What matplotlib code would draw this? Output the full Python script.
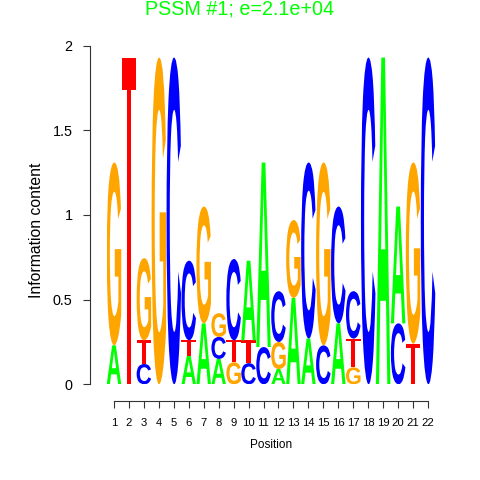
import matplotlib
matplotlib.use('Agg')
import matplotlib.pyplot as plt
from matplotlib.textpath import TextPath
from matplotlib.patches import PathPatch
from matplotlib.path import Path
from matplotlib.font_manager import FontProperties
from matplotlib.transforms import Affine2D

plt.rcParams['font.family'] = ['Liberation Sans', 'DejaVu Sans']

# Logo data: letters stacked bottom to top, with their heights (bits)
positions = list(range(1, 23))
stack_letters = ['AG', 'T', 'CTG', 'G', 'C', 'ATC', 'AG', 'ACG', 'GTC', 'CTA', 'CA',
                 'AGC', 'AG', 'AC', 'CG', 'AC', 'GTC', 'C', 'A', 'CA', 'TG', 'C']
stack_heights = [
    [0.23, 1.08],
    [1.93],
    [0.12, 0.14, 0.485],
    [1.93],
    [1.93],
    [0.17, 0.09, 0.47],
    [0.36, 0.69],
    [0.15, 0.13, 0.14],
    [0.13, 0.13, 0.48],
    [0.125, 0.135, 0.47],
    [0.22, 1.09],
    [0.09, 0.16, 0.30],
    [0.51, 0.46],
    [0.27, 1.04],
    [0.23, 1.08],
    [0.36, 0.69],
    [0.10, 0.17, 0.28],
    [1.93],
    [1.93],
    [0.36, 0.69],
    [0.24, 1.07],
    [1.93],
]
ytick_vals = [0, 0.5, 1, 1.5, 2]
ytick_labels = ['0', '0.5', '1', '1.5', '2']
title = 'PSSM #1; e=2.1e+04'

letter_colors = {'A': '#00FF00', 'C': '#0000FF', 'G': '#FFA500', 'T': '#FF0000'}
letter_font = FontProperties(family='Liberation Sans', weight='bold')


def unit_glyph(ch):
    """Glyph outline scaled into the unit square."""
    if ch == 'T':
        verts = [(0, 1), (1, 1), (1, 0.9), (0.645, 0.9), (0.645, 0),
                 (0.355, 0), (0.355, 0.9), (0, 0.9), (0, 1)]
        return Path(verts, closed=True)
    tp = TextPath((0, 0), ch, size=1, prop=letter_font)
    bb = tp.get_extents()
    t = Affine2D().translate(-bb.x0, -bb.y0).scale(1 / bb.width, 1 / bb.height)
    return t.transform_path(tp)


glyphs = {ch: unit_glyph(ch) for ch in 'ACGT'}


def draw_letter(ax, ch, x, y0, h, w=0.97):
    t = Affine2D().scale(w, h).translate(x - w / 2, y0)
    path = t.transform_path(glyphs[ch])
    ax.add_patch(PathPatch(path, facecolor=letter_colors[ch], edgecolor='none'))


fig = plt.figure(figsize=(4.8, 4.8), dpi=100)
ax = fig.add_axes([106.5 / 480, 95.7 / 480, 329 / 480, 338.6 / 480])

for pos, letters, heights in zip(positions, stack_letters, stack_heights):
    y = 0
    for ch, h in zip(letters, heights):
        draw_letter(ax, ch, pos, y, h)
        y += h

ax.set_xlim(0.5, 22.5)
ax.set_ylim(0, 2)

for s in ['top', 'right']:
    ax.spines[s].set_visible(False)
ax.spines['left'].set_position(('outward', 11.9))
ax.spines['left'].set_bounds(0, 2)
ax.spines['bottom'].set_position(('outward', 12))
ax.spines['bottom'].set_bounds(1, 22)
for s in ['left', 'bottom']:
    ax.spines[s].set_color('#333333')
    ax.spines[s].set_linewidth(0.8)

ax.set_yticks(ytick_vals)
ax.set_yticklabels(ytick_labels)
ax.set_xticks(positions)
ax.set_xticklabels([str(p) for p in positions])
ax.tick_params(axis='y', length=5, width=0.8, color='#333333', labelsize=10.4, pad=7.5)
ax.tick_params(axis='x', length=5, width=0.8, color='#333333', labelsize=8.1, pad=7)

fig.text(37 / 480, 1 - 230 / 480, 'Information content', rotation=90,
         ha='center', va='center', fontsize=11.3)
fig.text(271 / 480, 1 - 445 / 480, 'Position', ha='center', va='center', fontsize=8.5)
fig.text(0.5, 1 - 9 / 480, title, ha='center', va='center', fontsize=14.2, color='#00FF00')

fig.savefig('out.png', dpi=100)
